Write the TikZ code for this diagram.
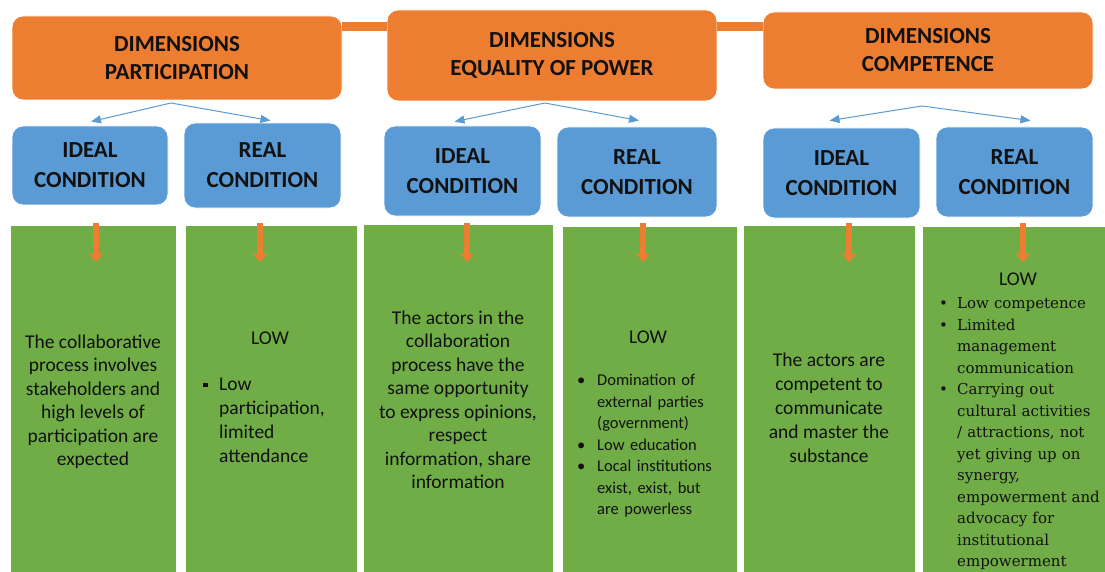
\documentclass[tikz,border=0pt]{standalone}
\usepackage{fontspec}
\newfontfamily\calfont{Carlito}
\newfontfamily\serfont{DejaVu Serif}
\usetikzlibrary{arrows.meta,calc}
\definecolor{oran}{HTML}{ED7D31}
\definecolor{blu}{HTML}{5B9BD5}
\definecolor{grn}{HTML}{70AD47}
\definecolor{ink}{HTML}{111111}
\newcommand\bitem[2]{\par\hangindent=#1\hangafter=1\noindent\makebox[#1][l]{\textbullet}#2\par}
\newcommand\sitem[2]{\par\hangindent=#1\hangafter=1\noindent\makebox[#1][l]{\raisebox{3pt}{\rule{4.5pt}{4.5pt}}}#2\par}
\begin{document}
\begin{tikzpicture}[x=1pt,y=-1pt,
  dimbox/.style={fill=oran,draw=white,line width=0.8pt,rounded corners=11pt,inner sep=0pt,
    minimum width=330pt,text=ink,align=center,font=\calfont\bfseries\fontsize{23}{28}\selectfont},
  condbox/.style={fill=blu,draw=white,line width=0.8pt,rounded corners=11pt,inner sep=0pt,
    text=ink,align=center,font=\calfont\bfseries\fontsize{23}{30}\selectfont},
  colbox/.style={fill=grn,draw=white,line width=1.2pt,inner sep=0pt,anchor=north west},
  bodytext/.style={text=ink,align=center,inner sep=0pt,font=\calfont\fontsize{19.5}{23.5}\selectfont},
  listtext/.style={text=ink,align=left,inner sep=0pt,anchor=north west},
  bar/.style={oran,line width=9pt},
  barrow/.style={blu,line width=1pt,-{Triangle[length=10pt,width=8pt]}},
  oarrow/.style={oran,line width=6pt,-{Triangle[length=8pt,width=14pt]}}
]
\useasboundingbox[fill=white] (0,0) rectangle (1105,572);

% top orange boxes
\node[dimbox,minimum height=84pt] (b1) at (177,58) {DIMENSIONS\\PARTICIPATION};
\node[dimbox,minimum height=91pt] (b2) at (552,55.5) {DIMENSIONS\\EQUALITY OF POWER};
\node[dimbox,minimum height=77pt] (b3) at (928,50.5) {DIMENSIONS\\COMPETENCE};

% orange bars between boxes
\coordinate (ybar) at (0,26.5);
\draw[bar] (b1.east |- ybar) -- (b2.west |- ybar);
\draw[bar] (b2.east |- ybar) -- (b3.west |- ybar);

% blue condition boxes
\node[condbox,minimum width=156pt,minimum height=79pt] (i1) at (90,165.5) {IDEAL\\CONDITION};
\node[condbox,minimum width=157pt,minimum height=85pt] (r1) at (262.5,165.5) {REAL\\CONDITION};
\node[condbox,minimum width=157pt,minimum height=90pt] (i2) at (462.5,171) {IDEAL\\CONDITION};
\node[condbox,minimum width=160pt,minimum height=90pt] (r2) at (637,172) {REAL\\CONDITION};
\node[condbox,minimum width=157pt,minimum height=90pt] (i3) at (841.5,173) {IDEAL\\CONDITION};
\node[condbox,minimum width=157pt,minimum height=90pt] (r3) at (1014.5,172) {REAL\\CONDITION};

% blue arrows
\coordinate (t1) at (171,103);
\coordinate (t2) at (545,103);
\coordinate (t3) at (922,106);
\draw[barrow] (t1) -- ($(i1.north)+(1,-4)$);
\draw[barrow] (t1) -- ($(r1.north)+(8,-2)$);
\draw[barrow] (t2) -- ($(i2.north)+(-8,-4)$);
\draw[barrow] (t2) -- ($(r2.north)+(2,-6)$);
\draw[barrow] (t3) -- ($(i3.north)+(-12,-7)$);
\draw[barrow] (t3) -- ($(r3.north)+(16,-6)$);

% green columns
\node[colbox,minimum width=166pt,minimum height=365pt] (g1) at (10,225) {};
\node[colbox,minimum width=172pt,minimum height=365pt] (g2) at (185,225) {};
\node[colbox,minimum width=190pt,minimum height=365pt] (g3) at (363,224) {};
\node[colbox,minimum width=175pt,minimum height=365pt] (g4) at (562,226) {};
\node[colbox,minimum width=172pt,minimum height=365pt] (g5) at (743,225) {};
\node[colbox,minimum width=190pt,minimum height=365pt] (g6) at (922,226) {};

% orange down arrows
\draw[oarrow] ($(i1.south |- g1.north)+(6,-2)$) -- ($(i1.south |- g1.north)+(6,37)$);
\draw[oarrow] ($(r1.south |- g2.north)+(-2.5,-2)$) -- ($(r1.south |- g2.north)+(-2.5,37)$);
\draw[oarrow] ($(i2.south |- g3.north)+(4.5,-1)$) -- ($(i2.south |- g3.north)+(4.5,38)$);
\draw[oarrow] ($(r2.south |- g4.north)+(6,-3)$) -- ($(r2.south |- g4.north)+(6,36)$);
\draw[oarrow] ($(i3.south |- g5.north)+(7.5,-2)$) -- ($(i3.south |- g5.north)+(7.5,37)$);
\draw[oarrow] ($(r3.south |- g6.north)+(8.5,-3)$) -- ($(r3.south |- g6.north)+(8.5,36)$);

% column 1
\node[bodytext] (c1) at (93,402) {The collaborative\\process involves\\stakeholders and\\high levels of\\participation are\\expected};

% column 2
\node[bodytext] (c2h) at (270,338) {LOW};
\node[listtext,text width=140pt,font=\calfont\fontsize{19.5}{24}\selectfont] (c2) at (203,366)
  {\sitem{16pt}{Low\newline participation,\newline limited\newline attendance}};

% column 3
\node[bodytext] (c3) at (458,400) {The actors in the\\collaboration\\process have the\\same opportunity\\to express opinions,\\respect\\information, share\\information};

% column 4
\node[bodytext] (c4h) at (648,337) {LOW};
\node[listtext,text width=160pt,font=\calfont\fontsize{16.5}{21.5}\selectfont] (c4) at (577,364)
  {\bitem{20pt}{Domination of\newline external parties\newline (government)}\bitem{20pt}{Low education}\bitem{20pt}{Local institutions\newline exist, exist, but\newline are powerless}};

% column 5
\node[bodytext,font=\calfont\fontsize{19.5}{24}\selectfont] (c5) at (829,408) {The actors are\\competent to\\communicate\\and master the\\substance};

% column 6
\node[bodytext] (c6h) at (1018,279) {LOW};
\node[listtext,text width=180pt,font=\serfont\fontsize{15}{21.5}\selectfont] (c6) at (939,287)
  {\bitem{18pt}{Low competence}\bitem{18pt}{Limited\newline management\newline communication}\bitem{18pt}{Carrying out\newline cultural activities\newline / attractions, not\newline yet giving up on\newline synergy,\newline empowerment and\newline advocacy for\newline institutional\newline empowerment}};
\end{tikzpicture}
\end{document}
